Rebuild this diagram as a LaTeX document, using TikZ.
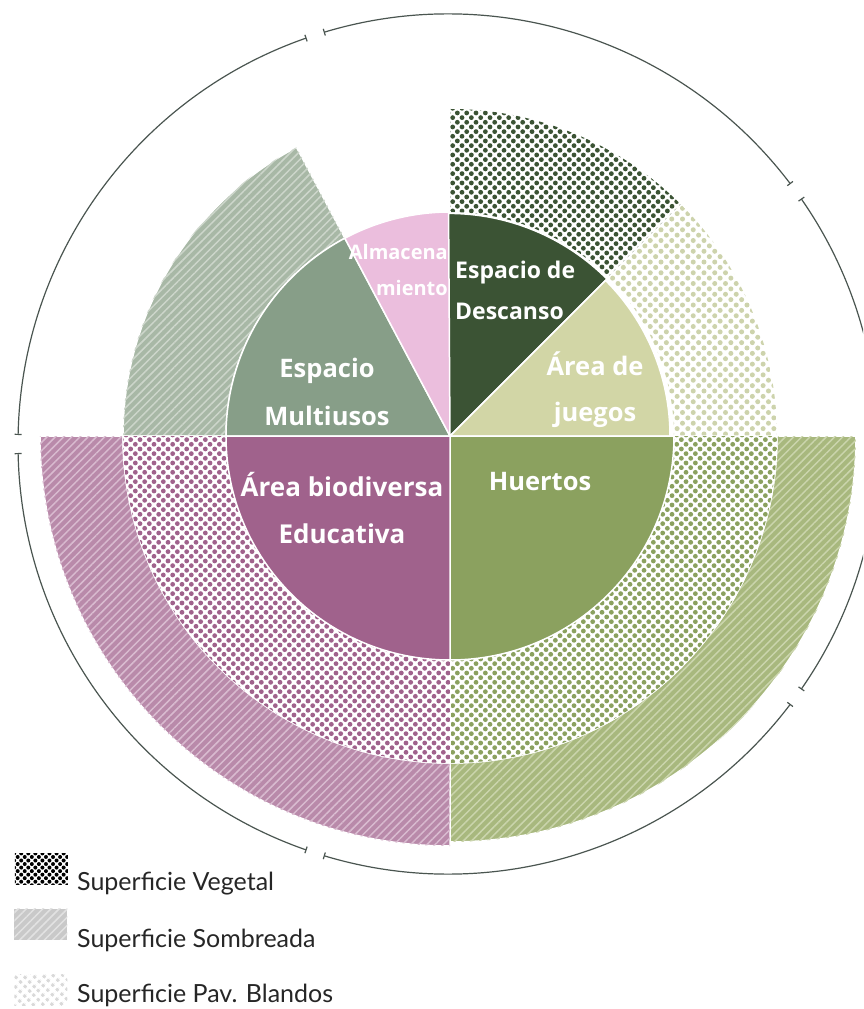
\documentclass[tikz,border=0pt]{standalone}
\usepackage{fontspec}
\setmainfont{Lato}
\newfontfamily\labelfont{Open Sans}
\usepackage{tikz}
\usetikzlibrary{patterns.meta, arrows.meta, positioning}
\definecolor{cDescanso}{HTML}{3B5334}
\definecolor{cJuegos}{HTML}{D2D6A6}
\definecolor{cJuegosDot}{HTML}{CDD3AC}
\definecolor{cHuertos}{HTML}{8BA15F}
\definecolor{cHuertosBg}{HTML}{A8B87E}
\definecolor{cHuertosLn}{HTML}{CBD5AD}
\definecolor{cBio}{HTML}{A0628C}
\definecolor{cBioBg}{HTML}{B98AAA}
\definecolor{cBioLn}{HTML}{D9BBD0}
\definecolor{cMulti}{HTML}{879E88}
\definecolor{cMultiBg}{HTML}{A8B8A6}
\definecolor{cMultiLn}{HTML}{CDD6CB}
\definecolor{cAlmacen}{HTML}{EBBEDD}
\definecolor{cRing}{HTML}{4A5550}
\definecolor{cGrayBg}{HTML}{C9C9C9}
\definecolor{cGrayLn}{HTML}{E2E2E2}
\definecolor{cGrayDot}{HTML}{D9D9D9}

\begin{document}
\begin{tikzpicture}[
  x=1pt, y=1pt,
  sector/.style={fill=#1, draw=white, line width=1.5pt},
  vegetal/.style={draw=white, line width=1.5pt, fill=white,
                  postaction={pattern={Dots[angle=45, distance=6.6pt, radius=2.4pt]}, pattern color=#1}},
  pavblando/.style={draw=white, line width=1.5pt, fill=white,
                    postaction={pattern={Dots[angle=45, distance=7.6pt, radius=2.5pt]}, pattern color=#1}},
  sombra/.style 2 args={draw=white, line width=1.5pt, fill=#1,
                 postaction={pattern={Lines[angle=45, distance=5.8pt, line width=1.5pt]}, pattern color=#2}},
  ring/.style={{Bar[width=7pt]}-{Bar[width=7pt]}, line width=1.2pt, color=cRing},
  label/.style={font=\labelfont\bfseries\fontsize{25.5}{46}\selectfont, text=white, align=center, inner sep=0pt},
  swatch/.style={minimum width=53pt, minimum height=31pt, inner sep=0pt, draw=none},
  legend/.style={font=\fontsize{25}{30}\selectfont, text=black!85, inner sep=0pt},
]
\useasboundingbox (-450,-573) rectangle (413,436);
\clip (-450,-573) rectangle (413,436);

% Outer rings
\draw[sombra={cMultiBg}{cMultiLn}] (118:224) arc[start angle=118, end angle=180, radius=224]
  -- (180:327) arc[start angle=180, end angle=118, radius=327] -- cycle;
\draw[vegetal=cDescanso] (45:224) arc[start angle=45, end angle=90, radius=224]
  -- (90:327) arc[start angle=90, end angle=45, radius=327] -- cycle;
\draw[pavblando=cJuegosDot] (0:224) arc[start angle=0, end angle=45, radius=224]
  -- (45:327) arc[start angle=45, end angle=0, radius=327] -- cycle;
\draw[sombra={cHuertosBg}{cHuertosLn}] (270:327) arc[start angle=270, end angle=360, radius=327]
  -- (0:406) arc[start angle=360, end angle=270, radius=406] -- cycle;
\draw[vegetal=cHuertos] (270:224) arc[start angle=270, end angle=360, radius=224]
  -- (0:327) arc[start angle=360, end angle=270, radius=327] -- cycle;
\draw[sombra={cBioBg}{cBioLn}] (180:327) arc[start angle=180, end angle=270, radius=327]
  -- (270:410) arc[start angle=270, end angle=180, radius=410] -- cycle;
\draw[vegetal=cBio] (180:224) arc[start angle=180, end angle=270, radius=224]
  -- (270:327) arc[start angle=270, end angle=180, radius=327] -- cycle;

% Inner sectors
\draw[sector=cMulti] (0,0) -- (118:224) arc[start angle=118, end angle=180, radius=224] -- cycle;
\draw[sector=cAlmacen] (0,0) -- (90:224) arc[start angle=90, end angle=118, radius=224] -- cycle;
\draw[sector=cDescanso] (0,0) -- (45:222) arc[start angle=45, end angle=90, radius=224] -- cycle;
\draw[sector=cJuegos] (0,0) -- (0:220) arc[start angle=0, end angle=45, radius=220] -- cycle;
\draw[sector=cHuertos] (0,0) -- (270:224) arc[start angle=270, end angle=360, radius=224] -- cycle;
\draw[sector=cBio] (0,0) -- (180:224) arc[start angle=180, end angle=270, radius=224] -- cycle;

% Circle
\draw[ring] ([shift={(-2,-8)}]37.2:430) arc[start angle=37.2, end angle=106.8, radius=430];
\draw[ring] ([shift={(-2,-8)}]109.2:430) arc[start angle=109.2, end angle=178.8, radius=430];
\draw[ring] ([shift={(-2,-8)}]181.2:430) arc[start angle=181.2, end angle=250.8, radius=430];
\draw[ring] ([shift={(-2,-8)}]253.2:430) arc[start angle=253.2, end angle=322.8, radius=430];
\draw[ring] ([shift={(-2,-8)}]325.2:430) arc[start angle=325.2, end angle=394.8, radius=430];

% Labels
\node[label, align=left, anchor=west, font=\labelfont\bfseries\fontsize{23}{41}\selectfont] (descanso) at (5,146) {Espacio de\\Descanso};
\node[label] (juegos) at (145,46) {Área de\\juegos};
\node[label] (huertos) at (90,-46) {Huertos};
\node[label, font=\labelfont\bfseries\fontsize{26}{47}\selectfont] (bio) at (-108,-72) {Área biodiversa\\Educativa};
\node[label, font=\labelfont\bfseries\fontsize{25.5}{48}\selectfont] (multi) at (-123,44) {Espacio\\Multiusos};
\node[label, align=right, anchor=east, font=\labelfont\bfseries\fontsize{20}{36}\selectfont] (almacen) at (-2,166) {Almacena\\miento};

% Legend
\node[swatch, fill=white, postaction={pattern={Dots[angle=45, distance=5pt, radius=2pt]}, pattern color=black}] (legVeg) at (-408.5,-433) {};
\node[swatch, fill=cGrayBg, postaction={pattern={Lines[angle=45, distance=5.8pt, line width=1.5pt]}, pattern color=cGrayLn}] (legSom) at (-409,-488) {};
\node[swatch, fill=white, postaction={pattern={Dots[angle=45, distance=6.5pt, radius=2pt]}, pattern color=cGrayDot}] (legPav) at (-409,-554) {};
\node[legend, anchor=base west] (txtVeg) at (-373,-454) {Superficie Vegetal};
\node[legend, anchor=base west] (txtSom) at (-373,-511) {Superficie Sombreada};
\node[legend, anchor=base west] (txtPav) at (-373,-566) {Superficie Pav. Blandos};

\end{tikzpicture}
\end{document}
